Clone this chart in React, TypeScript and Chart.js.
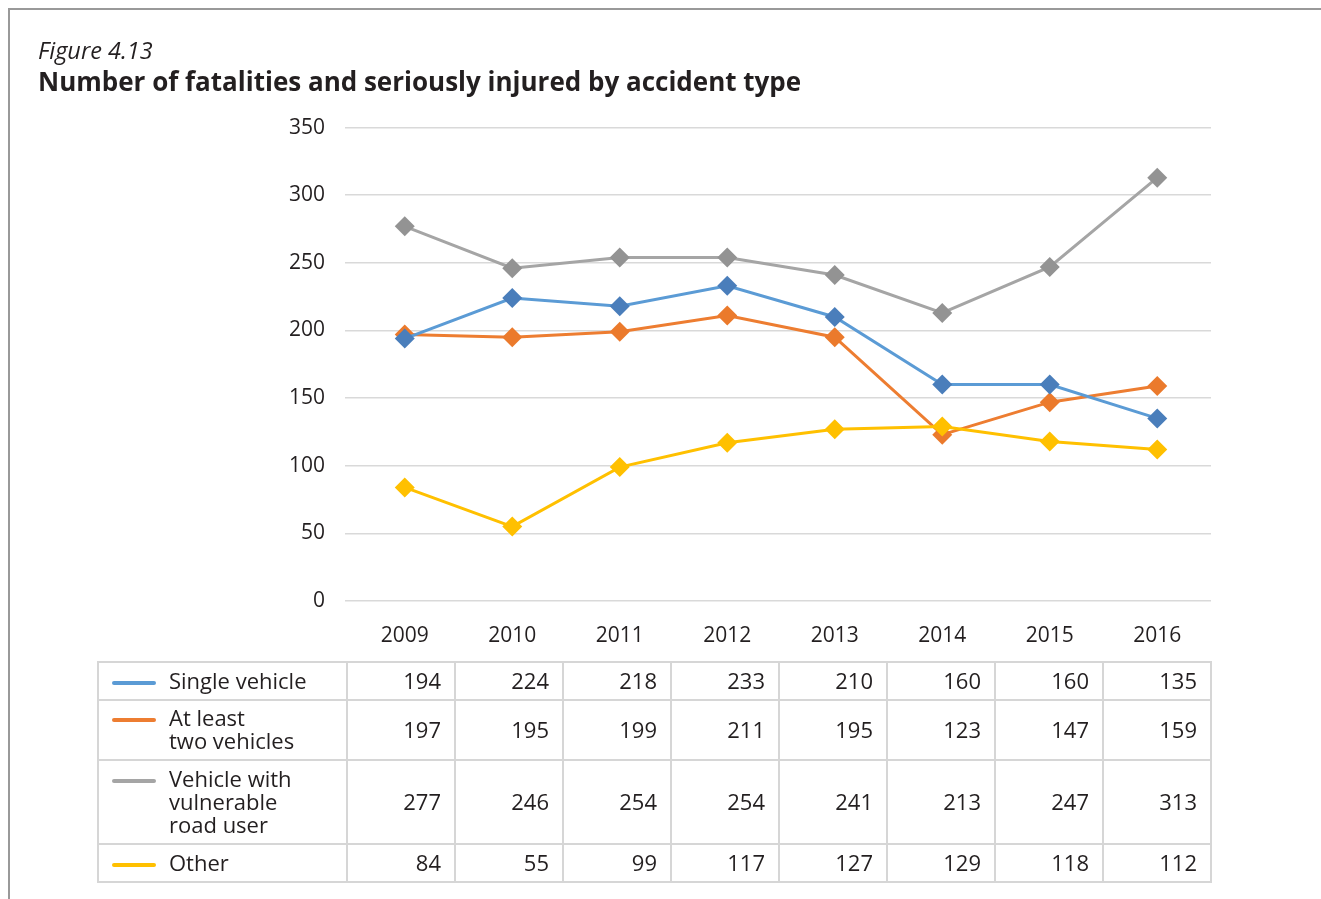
import React, { useEffect, useRef } from "react";
import { Chart, registerables } from "chart.js";

Chart.register(...registerables);

const years = ["2009", "2010", "2011", "2012", "2013", "2014", "2015", "2016"];
const singleVehicle = [194, 224, 218, 233, 210, 160, 160, 135];
const twoVehicles = [197, 195, 199, 211, 195, 123, 147, 159];
const vulnerableUser = [277, 246, 254, 254, 241, 213, 247, 313];
const other = [84, 55, 99, 117, 127, 129, 118, 112];
const yTicks = [0, 50, 100, 150, 200, 250, 300, 350];

const seriesNames = [["Single vehicle"], ["At least", "two vehicles"], ["Vehicle with", "vulnerable", "road user"], ["Other"]];
const seriesValues = [singleVehicle, twoVehicles, vulnerableUser, other];
const lineColors = ["#5B9BD5", "#ED7D31", "#A5A5A5", "#FFC000"];
const markerColors = ["#4A7EBB", "#EB7A2C", "#939393", "#FFC000"];
const drawOrder = [0, 3, 2, 1];
const rowHeights = [38, 60, 84, 38];

const FONT = "'Open Sans', 'Noto Sans', sans-serif";
const TEXT = "#231f20";

export default function App() {
  const ref = useRef<HTMLCanvasElement>(null);
  useEffect(() => {
    const chart = new Chart(ref.current!, {
      type: "line",
      data: {
        labels: years,
        datasets: seriesValues.map((v, i) => ({
          label: seriesNames[i].join(" "),
          data: v,
          order: drawOrder[i],
          borderColor: lineColors[i],
          backgroundColor: markerColors[i],
          pointBackgroundColor: markerColors[i],
          pointBorderColor: markerColors[i],
          pointStyle: "rectRot",
          pointRadius: 10,
          pointBorderWidth: 0,
          borderWidth: 3,
          tension: 0,
        })),
      },
      options: {
        animation: false,
        responsive: false,
        maintainAspectRatio: false,
        layout: { padding: { top: 22, right: 37, left: 0, bottom: 0 } },
        plugins: { legend: { display: false }, tooltip: { enabled: false } },
        scales: {
          x: {
            offset: true,
            grid: { display: false, drawTicks: false },
            border: { display: false },
            ticks: { color: TEXT, font: { family: FONT, size: 21 }, padding: 22 },
            afterFit: (s: any) => { s.height = 59; },
          },
          y: {
            min: 0,
            max: 350,
            afterBuildTicks: (s: any) => { s.ticks = yTicks.map((v) => ({ value: v })); },
            grid: { color: "#d9d9d9", lineWidth: 1.5, tickLength: 6, drawTicks: true },
            border: { display: false },
            ticks: { color: TEXT, font: { family: FONT, size: 21 }, padding: 20 },
            afterFit: (s: any) => { s.width = 343; },
          },
        },
      },
    });
    return () => chart.destroy();
  }, []);

  const cellBorder = "2px solid #d6d6d6";
  return (
    <div style={{ position: "fixed", left: 8, top: 8, width: 1313, height: 891, borderTop: "2px solid #999", borderLeft: "2px solid #999", boxSizing: "border-box", fontFamily: FONT, color: TEXT, overflow: "hidden" }}>
      <div style={{ position: "absolute", left: 28, top: 26, fontSize: 23.5, fontStyle: "italic", lineHeight: "28px" }}>Figure 4.13</div>
      <div style={{ position: "absolute", left: 28, top: 54, fontSize: 26, fontWeight: 700, lineHeight: "34px" }}>
        Number of fatalities and seriously injured by accident type
      </div>
      <canvas ref={ref} width={1240} height={565} style={{ position: "absolute", left: -2, top: 85, width: 1240, height: 565 }} />
      <table style={{ position: "absolute", left: 87, top: 651, borderCollapse: "collapse", tableLayout: "fixed", fontSize: 22 }}>
        <colgroup>
          <col style={{ width: 249 }} />
          {years.map((y) => <col key={y} style={{ width: 108 }} />)}
        </colgroup>
        <tbody>
          {seriesValues.map((vals, i) => (
            <tr key={i} style={{ height: rowHeights[i] }}>
              <td style={{ border: cellBorder, padding: 0, verticalAlign: "middle" }}>
                <div style={{ display: "flex", alignItems: "flex-start" }}>
                  <div style={{ width: 44, height: 4, borderRadius: 2, background: lineColors[i], marginLeft: 13, marginTop: 10, marginRight: 13, flexShrink: 0 }} />
                  <div style={{ lineHeight: "23px", marginTop: -2 }}>
                    {seriesNames[i].map((t, k) => <div key={k}>{t}</div>)}
                  </div>
                </div>
              </td>
              {vals.map((v, k) => (
                <td key={k} style={{ border: cellBorder, padding: "0 13px 2px 0", textAlign: "right", verticalAlign: "middle" }}>{v}</td>
              ))}
            </tr>
          ))}
        </tbody>
      </table>
    </div>
  );
}
